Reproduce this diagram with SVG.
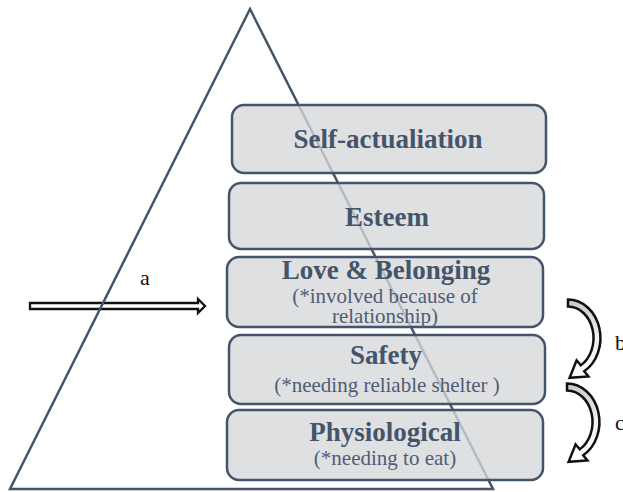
<svg xmlns="http://www.w3.org/2000/svg" xmlns:xlink="http://www.w3.org/1999/xlink" width="623" height="492" viewBox="0 0 623 492">
<style>
.box{fill:#d6d7da;fill-opacity:0.78;stroke:#44546a;stroke-width:2.5}
.title{font-family:"Liberation Serif","Times New Roman",serif;font-weight:bold;font-size:27px;fill:#44546a;text-anchor:middle}
.sub{font-family:"Liberation Serif","Times New Roman",serif;font-size:21px;fill:#4f5d74;text-anchor:middle}
.lbl{font-family:"Liberation Serif","Times New Roman",serif;font-size:22px;fill:#111}
.blk{fill:#fff;stroke:#111;stroke-width:2.3}
.curv{fill:url(#bandfill);stroke:#111;stroke-width:2.5;stroke-linejoin:miter}
</style>
<defs>
<linearGradient id="bandfill" x1="0" y1="0" x2="0" y2="1">
<stop offset="0" stop-color="#c8c9cc"/>
<stop offset="0.5" stop-color="#f2f2f2"/>
<stop offset="1" stop-color="#ffffff"/>
</linearGradient>
<path id="curved" d="M568 299.5 A32.5 38.5 0 0 1 584.25 371.3 L588.4 376.4 L569.6 377.8 L576.6 360.3 L580.75 365.3 A25.5 31.5 0 0 0 568 306.5 Z"/>
</defs>
<g id="connectors">
<path id="arrow-a" class="blk" d="M30 303 L198 303 L198 299 L205 306 L198 313 L198 309 L30 309 Z"/>
</g>
<g id="pyramid">
<path d="M250 9 L10 489 L493 489 Z" fill="none" stroke="#44546a" stroke-width="2.5" stroke-linejoin="miter"/>
</g>
<g id="self-actualization">
<rect class="box" x="232" y="105" width="314" height="68" rx="12"/>
<text class="title" x="388" y="148">Self-actualiation</text>
</g>
<g id="esteem">
<rect class="box" x="229" y="183" width="315" height="66" rx="12"/>
<text class="title" x="387" y="226">Esteem</text>
</g>
<g id="love-belonging">
<rect class="box" x="227" y="257" width="316" height="70" rx="12"/>
<text class="title" x="386" y="279">Love &amp; Belonging</text>
<text class="sub" x="385" y="303">(*involved because of</text>
<text class="sub" x="385" y="323">relationship)</text>
</g>
<g id="safety">
<rect class="box" x="229" y="335" width="316" height="69" rx="12"/>
<text class="title" x="386" y="364">Safety</text>
<text class="sub" x="387" y="392">(*needing reliable shelter )</text>
</g>
<g id="physiological">
<rect class="box" x="227" y="410" width="316" height="70" rx="12"/>
<text class="title" x="385" y="441">Physiological</text>
<text class="sub" x="385" y="465">(*needing to eat)</text>
</g>
<g id="curved-connectors">
<use xlink:href="#curved" class="curv"/>
<use xlink:href="#curved" class="curv" transform="translate(-1 84)"/>
</g>
<g id="labels">
<text class="lbl" x="140" y="285">a</text>
<text class="lbl" x="615" y="350">b</text>
<text class="lbl" x="615" y="430">c</text>
</g>
</svg>
